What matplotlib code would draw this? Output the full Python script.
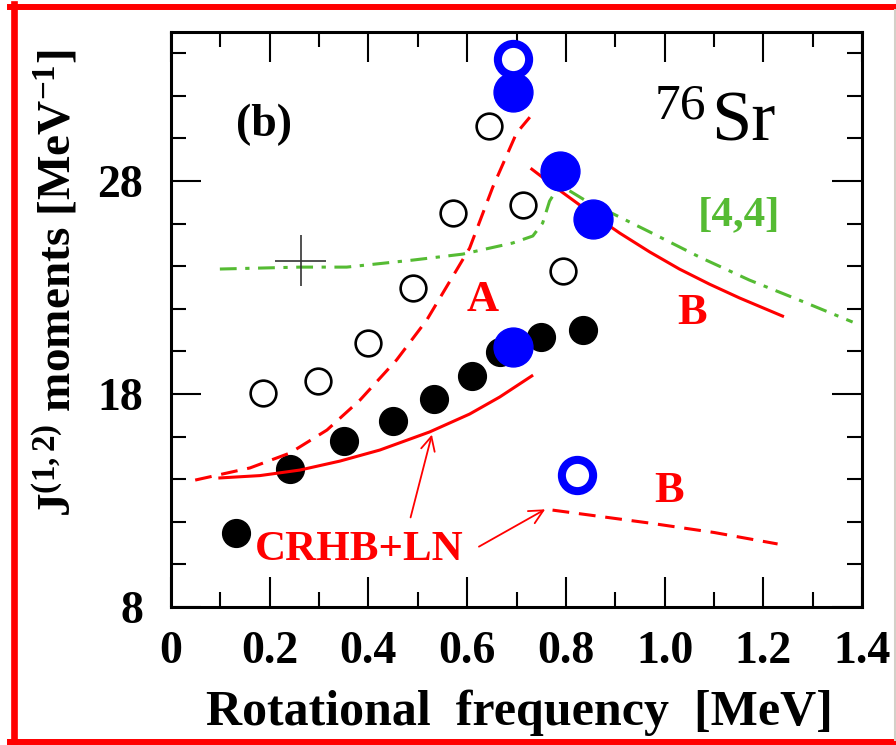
import matplotlib
matplotlib.use('Agg')
import matplotlib.pyplot as plt
from matplotlib.lines import Line2D

plt.rcParams['font.family'] = ['Liberation Serif', 'DejaVu Serif']
plt.rcParams['font.weight'] = 'bold'
plt.rcParams['mathtext.fontset'] = 'custom'
plt.rcParams['mathtext.rm'] = 'Liberation Serif:bold'
plt.rcParams['mathtext.bf'] = 'Liberation Serif:bold'
plt.rcParams['mathtext.it'] = 'Liberation Serif:bold'

# experimental J(1), J(2) moments
w_j2 = [0.132, 0.241, 0.350, 0.449, 0.532, 0.609, 0.666, 0.749, 0.834]
j2 = [11.47, 14.48, 15.79, 16.73, 17.77, 18.85, 19.97, 20.68, 21.0]
w_j1 = [0.186, 0.298, 0.399, 0.490, 0.571, 0.644, 0.713, 0.794]
j1 = [18.05, 18.6, 20.4, 22.98, 26.5, 30.58, 26.87, 23.77]

# other experimental points (blue)
w_blue_full = [0.692, 0.692, 0.789, 0.854]
j_blue_full = [32.2, 20.2, 28.47, 26.2]
w_blue_open = [0.692, 0.822]
j_blue_open = [33.73, 14.2]

# CRHB+LN, configuration A
w_A1 = [0.049, 0.160, 0.241, 0.316, 0.383, 0.457, 0.518, 0.605, 0.652, 0.700, 0.727]
A1 = [13.96, 14.53, 15.23, 16.31, 17.72, 19.60, 21.47, 24.85, 27.72, 30.25, 31.0]
w_A2 = [0.099, 0.180, 0.261, 0.342, 0.423, 0.524, 0.605, 0.666, 0.731]
A2 = [14.06, 14.17, 14.43, 14.85, 15.37, 16.22, 17.06, 17.86, 18.85]

# CRHB+LN, configuration B
w_B1 = [0.731, 0.787, 0.848, 0.909, 0.970, 1.030, 1.091, 1.152, 1.239]
B1 = [28.56, 27.57, 26.54, 25.56, 24.67, 23.87, 23.16, 22.51, 21.66]
w_B2 = [0.773, 0.870, 0.970, 1.100, 1.229]
B2 = [12.55, 12.25, 11.94, 11.50, 10.96]

# [4,4] configuration
w_44 = [0.099, 0.261, 0.356, 0.490, 0.591, 0.692, 0.733, 0.753, 0.767, 0.781,
        0.802, 0.848, 0.889, 0.970, 1.071, 1.172, 1.273, 1.381]
j_44 = [23.87, 23.96, 23.96, 24.29, 24.57, 25.09, 25.42, 26.03, 27.06, 27.58,
        27.62, 26.97, 26.54, 25.61, 24.43, 23.35, 22.41, 21.38]

x_ticks = [0, 0.2, 0.4, 0.6, 0.8, 1.0, 1.2, 1.4]
x_labels = ['0', '0.2', '0.4', '0.6', '0.8', '1.0', '1.2', '1.4']
y_ticks = [8, 18, 28]

RED = '#ff0000'
GREEN = '#55bb33'
BLUE = '#0000ff'

fig = plt.figure(figsize=(8.96, 7.45), dpi=100)
ax = fig.add_axes([171 / 896, 138 / 745, 691 / 896, 575 / 745])

ax.plot(w_j2, j2, 'o', color='black', ms=20, zorder=3)
ax.plot(w_j1, j1, 'o', mfc='none', mec='black', ms=18.5, mew=1.9, zorder=3)

ax.plot(w_A1, A1, color=RED, lw=2.2, ls=(0, (5.5, 3.2)), zorder=4)
ax.plot(w_A2, A2, color=RED, lw=2.2, zorder=4)
ax.plot(w_B1, B1, color=RED, lw=2.2, zorder=4)
ax.plot(w_B2, B2, color=RED, lw=2.2, ls=(0, (5.5, 3.2)), zorder=4)
ax.plot(w_44, j_44, color=GREEN, lw=2.2, ls=(0, (5.5, 2.8, 1.4, 2.8)), zorder=4)

ax.plot(w_blue_full, j_blue_full, 'o', color=BLUE, ms=28, zorder=5)
ax.plot(w_blue_open, j_blue_open, 'o', mfc='white', mec=BLUE, ms=22.5, mew=5.8, zorder=5)

# error cross
ax.errorbar([0.2625], [24.26], xerr=[0.051], yerr=[1.19], fmt='none',
            ecolor='#333333', elinewidth=1.2, capsize=0, zorder=4)

ax.set_xlim(0, 1.4)
ax.set_ylim(8, 35)
ax.set_xticks(x_ticks)
ax.set_xticklabels(x_labels)
ax.set_xticks([0.1, 0.3, 0.5, 0.7, 0.9, 1.1, 1.3], minor=True)
ax.set_yticks(y_ticks)
ax.set_yticks([10, 12, 14, 16, 20, 22, 24, 26, 30, 32, 34], minor=True)
ax.tick_params(which='both', direction='in', top=True, right=True, width=1.5,
               labelsize=33)
ax.tick_params(which='major', length=21.5)
ax.tick_params(which='minor', length=11)
ax.tick_params(axis='x', pad=17)
ax.tick_params(axis='y', pad=20)
for sp in ax.spines.values():
    sp.set_linewidth(2.2)

ax.text(0.188, 30.63, '(b)', fontsize=33, ha='center', va='center')
ax.text(0.632, 22.41, 'A', fontsize=32, color=RED, ha='center', va='center')
ax.text(1.055, 21.80, 'B', fontsize=32, color=RED, ha='center', va='center')
ax.text(1.010, 13.45, 'B', fontsize=32, color=RED, ha='center', va='center')
ax.text(1.150, 26.40, '[4,4]', fontsize=31, color=GREEN, ha='center', va='center')
ax.text(0.381, 10.68, 'CRHB+LN', fontsize=31, color=RED, ha='center', va='center')
ax.text(1.085, 30.96, '76', fontsize=37, fontweight='normal', ha='right', va='baseline')
ax.text(1.095, 29.92, 'Sr', fontsize=52, fontweight='normal', ha='left', va='baseline')

arrow = dict(arrowstyle='->', color=RED, lw=1.3, mutation_scale=25)
ax.annotate('', xy=(0.530, 16.22), xytext=(0.484, 12.08), arrowprops=arrow, zorder=4)
ax.annotate('', xy=(0.763, 12.65), xytext=(0.619, 10.77), arrowprops=arrow, zorder=4)

fig.text(519 / 896, 20 / 745, 'Rotational  frequency  [MeV]', fontsize=36,
         ha='center', va='baseline')
fig.text(80 / 896, 1 - 283 / 745,
         r'$\mathrm{J}^{\mathrm{(1,2)}}$ moments [MeV$^{\mathrm{-1}}$]',
         fontsize=34, rotation=90, ha='right', va='center')

# frame around the panel
fig.add_artist(Line2D([10 / 896, 1], [1 - 7 / 745] * 2, color=RED, lw=4.3,
                      transform=fig.transFigure))
fig.add_artist(Line2D([13.5 / 896] * 2, [0, 1 - 4 / 745], color=RED, lw=4.8,
                      transform=fig.transFigure))
fig.add_artist(Line2D([10 / 896, 1], [3 / 745] * 2, color=RED, lw=4.3,
                      transform=fig.transFigure))
fig.add_artist(Line2D([894.5 / 896] * 2, [6 / 745, 1 - 10 / 745], color='#d4d0c8',
                      lw=2.2, transform=fig.transFigure))

fig.savefig('out.png', dpi=100)
